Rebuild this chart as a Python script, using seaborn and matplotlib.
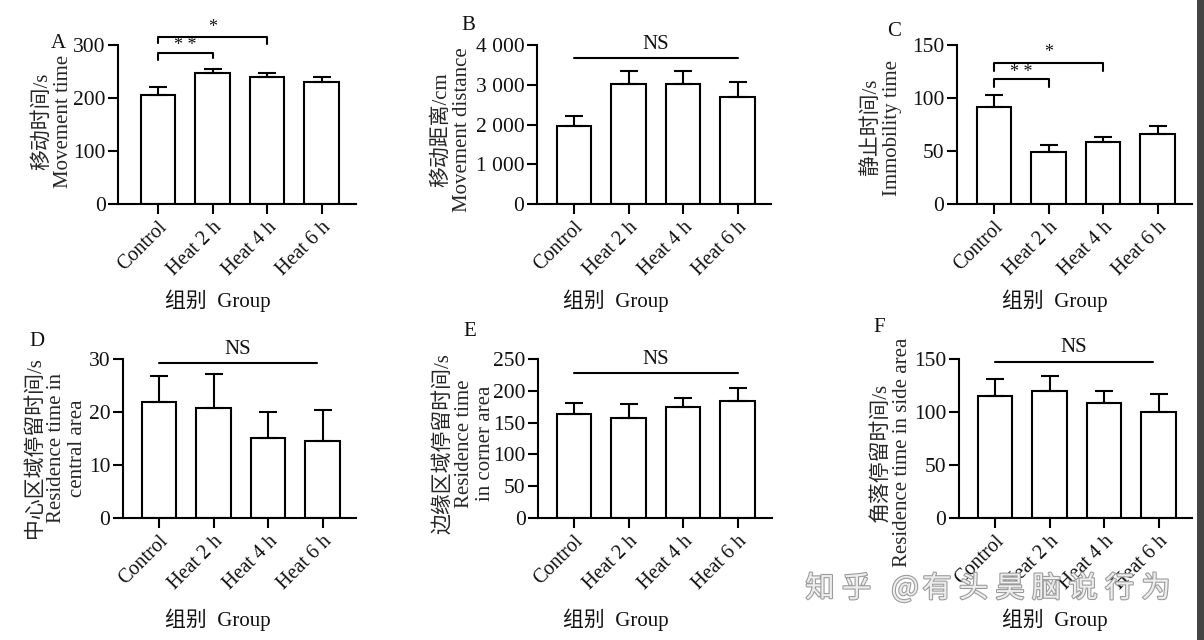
import numpy as np
import pandas as pd
import matplotlib
matplotlib.use("Agg")
import matplotlib.pyplot as plt
import matplotlib.patheffects as pe
from matplotlib.patches import Rectangle
from matplotlib.ticker import FuncFormatter
import seaborn as sns

# ---------------- data ----------------
groups = ["Control", "Heat 2 h", "Heat 4 h", "Heat 6 h"]

move_time = [205, 248, 239, 231]
move_time_err = [15, 7, 9, 9]
move_dist = [1955, 3020, 3020, 2700]
move_dist_err = [250, 335, 335, 370]
immobility = [91.5, 49.5, 58.3, 66.3]
immobility_err = [11.5, 6.0, 5.0, 7.5]
central = [21.8, 20.8, 15.1, 14.6]
central_err = [4.9, 6.4, 4.9, 5.8]
corner = [163, 158, 174, 184]
corner_err = [18, 21, 14, 20]
side = [115, 119.6, 108.8, 100.4]
side_err = [16.5, 14.4, 11.3, 16.4]

xlabel_text = "组别  Group"
watermark = "知乎 @有头昊脑说行为"

# ---------------- style ----------------
sns.set_theme(style="ticks")
SERIF = ["Liberation Serif", "Noto Sans CJK SC"]
plt.rcParams["font.family"] = SERIF
plt.rcParams["axes.unicode_minus"] = False
plt.rcParams["text.color"] = "#111111"

W, H = 1204, 640
fig = plt.figure(figsize=(W / 100, H / 100), dpi=100)
fig.patch.set_facecolor("white")

PITCH = 54.5  # px between bar centers
LW = 1.5
YTICK_FS = 15.5
XTICK_FS = 14.5
LABEL_FS = 15

panels = [
    dict(vals=move_time, errs=move_time_err, yticks=[0, 100, 200, 300],
         ylabel="移动时间/s\nMovement time",
         left=118, tick0=158, right=356, y0=204, ytop=45,
         letter="A", letter_xy=(58, 43), xlabel_xy=(218, 301), ylabel_right=73, ylabel_y=0.52,
         sig=[(0, 1, 285, 272.5, 276, "* *"), (0, 2, 314.5, 303, 302, "*")], ns=None, thousands=False),
    dict(vals=move_dist, errs=move_dist_err, yticks=[0, 1000, 2000, 3000, 4000],
         ylabel="移动距离/cm\nMovement distance",
         left=537, tick0=574, right=771, y0=204, ytop=45,
         letter="B", letter_xy=(468, 25), xlabel_xy=(616, 301), ylabel_right=472, ylabel_y=0.47,
         sig=[], ns=(0, 3, 3665), thousands=True),
    dict(vals=immobility, errs=immobility_err, yticks=[0, 50, 100, 150],
         ylabel="静止时间/s\nImmobility time",
         left=957, tick0=994, right=1192, y0=204, ytop=45,
         letter="C", letter_xy=(894, 32), xlabel_xy=(1055, 301), ylabel_right=902, ylabel_y=0.48,
         sig=[(0, 1, 117.6, 110.7, 110.7, "* *"), (0, 2, 133, 125.5, 125.5, "*")], ns=None, thousands=False),
    dict(vals=central, errs=central_err, yticks=[0, 10, 20, 30],
         ylabel="中心区域停留时间/s\nResidence time in\ncentral area",
         left=123, tick0=159, right=356, y0=518, ytop=359,
         letter="D", letter_xy=(37, 342), xlabel_xy=(218, 620), ylabel_right=87, ylabel_y=0.44,
         sig=[], ns=(0, 2.9, 29.3), thousands=False),
    dict(vals=corner, errs=corner_err, yticks=[0, 50, 100, 150, 200, 250],
         ylabel="边缘区域停留时间/s\nResidence time\nin corner area",
         left=538, tick0=574, right=772, y0=518, ytop=359,
         letter="E", letter_xy=(470, 332), xlabel_xy=(616, 620), ylabel_right=495, ylabel_y=0.47,
         sig=[], ns=(0, 3, 227.5), thousands=False),
    dict(vals=side, errs=side_err, yticks=[0, 50, 100, 150],
         ylabel="角落停留时间/s\nResidence time in side area",
         left=959, tick0=995, right=1192, y0=518, ytop=359,
         letter="F", letter_xy=(879, 328), xlabel_xy=(1055, 620), ylabel_right=912, ylabel_y=0.415,
         sig=[], ns=(0, 2.9, 147.5), thousands=False),
]

for p in panels:
    wpx = p["right"] - p["left"]
    hpx = p["y0"] - p["ytop"]
    ax = fig.add_axes([p["left"] / W, (H - p["y0"]) / H, wpx / W, hpx / H])
    df = pd.DataFrame({"group": groups, "value": p["vals"]})
    sns.barplot(data=df, x="group", y="value", ax=ax, color="white", saturation=1,
                edgecolor="black", linewidth=LW, width=0.64, errorbar=None, zorder=2)
    ax.errorbar(np.arange(len(groups)), p["vals"],
                yerr=[np.zeros(len(groups)), p["errs"]],
                fmt="none", ecolor="black", elinewidth=LW, capsize=6.5, capthick=LW, zorder=3)

    xl = -(p["tick0"] - p["left"]) / PITCH
    ax.set_xlim(xl, xl + wpx / PITCH)
    ax.set_ylim(0, p["yticks"][-1])
    ax.set_yticks(p["yticks"])
    if p["thousands"]:
        ax.yaxis.set_major_formatter(FuncFormatter(lambda v, pos: f"{int(v):,}".replace(",", " ")))
    ax.set_xticks(range(len(groups)))
    ax.set_xticklabels(groups, rotation=45, ha="right", va="top", rotation_mode="anchor",
                       fontsize=XTICK_FS)
    for lab in ax.get_yticklabels():
        lab.set_fontsize(YTICK_FS)

    ax.set_facecolor("white")
    sns.despine(ax=ax)
    for s in ("left", "bottom"):
        ax.spines[s].set_linewidth(LW)
        ax.spines[s].set_color("black")
    ax.tick_params(axis="both", direction="out", length=7, width=LW, color="black",
                   labelcolor="#111111", pad=2)
    ax.tick_params(axis="x", pad=3)
    ax.grid(False)

    ax.set_xlabel("")
    ax.set_ylabel(p["ylabel"], fontsize=LABEL_FS, linespacing=1.15)
    ax.yaxis.set_label_coords((p["ylabel_right"] - p["left"]) / wpx, p["ylabel_y"])

    # significance brackets
    for (i, j, yb, yl, yr, s) in p["sig"]:
        ax.plot([i, i, j, j], [yl, yb, yb, yr], color="black", lw=LW, clip_on=False, zorder=4)
        off = 4 if s == "*" else 2
        ax.annotate(s, xy=((i + j) / 2, yb), xytext=(0, off), textcoords="offset points",
                    ha="center", va="baseline", fontsize=13, annotation_clip=False)
    if p["ns"] is not None:
        i, j, yb = p["ns"]
        ax.plot([i, j], [yb, yb], color="black", lw=LW, clip_on=False, zorder=4)
        ax.annotate("NS", xy=((i + j) / 2, yb), xytext=(0, 3), textcoords="offset points",
                    ha="center", va="bottom", fontsize=LABEL_FS, annotation_clip=False)

    fig.text(p["letter_xy"][0] / W, 1 - p["letter_xy"][1] / H, p["letter"],
             ha="center", va="center", fontsize=LABEL_FS)
    fig.text(p["xlabel_xy"][0] / W, 1 - p["xlabel_xy"][1] / H, xlabel_text,
             ha="center", va="center", fontsize=LABEL_FS)

# watermark (letter-spaced)
wm_x = 820
for ch in watermark:
    if ch == " ":
        wm_x += 12
        continue
    fig.text(wm_x / W, 1 - 589 / H, ch, ha="center", va="center", fontsize=21,
             family=["Noto Sans CJK SC", "DejaVu Sans"], color="#eeeeee", zorder=10,
             path_effects=[pe.withStroke(linewidth=1.6, foreground="#9c9c9c")])
    wm_x += 36.5 if ch != "@" else 32

# right-edge screenshot strip
fig.add_artist(Rectangle((1197 / W, 0), 7 / W, 1, transform=fig.transFigure,
                         facecolor="#444444", edgecolor="none", zorder=20))

fig.savefig("out.png", dpi=100, facecolor="white")
